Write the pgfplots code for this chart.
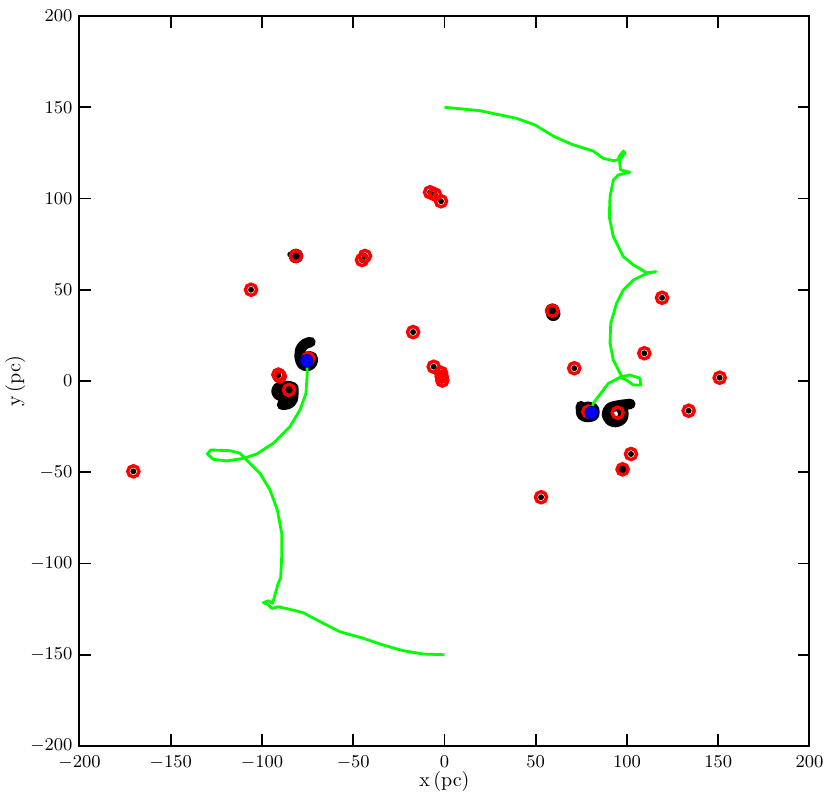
\documentclass[border=0pt]{standalone}
\usepackage{pgfplots}
\pgfplotsset{compat=1.18}
\definecolor{lime}{rgb}{0,1,0}
\begin{document}
\begin{tikzpicture}
\begin{axis}[
  scale only axis, width=365pt, height=365pt,
  xmin=-200, xmax=200, ymin=-200, ymax=200,
  xtick={-200,-150,...,200}, ytick={-200,-150,...,200},
  tick align=inside, major tick length=5.8pt,
  every tick/.style={black, line width=0.8pt},
  axis line style={line width=1pt},
  tick label style={font=\fontsize{8.7}{10}\selectfont},
  xticklabel style={yshift=-1.5pt},
  label style={font=\fontsize{8.7}{10}\selectfont},
  xlabel={x\,(pc)}, ylabel={y\,(pc)},
  every axis x label/.style={at={(axis description cs:0.5,-0.048)}, anchor=center},
  every axis y label/.style={at={(axis description cs:-0.0877,0.5)}, anchor=center, rotate=90},
  clip=false,
]
\coordinate (SW) at (rel axis cs:0,0);
% black particle streams (blobs)
\addplot[black, line width=5.3pt, line cap=round, line join=round, smooth] coordinates {
(-73.5,21.3) (-76.5,20.3) (-78.8,17.5) (-79.3,13) (-78,9.3) (-75,8.2) (-72.7,9.7) (-72.2,12.5) (-74,13.5) (-77,12.5)};
\addplot[black, line width=5.3pt, line cap=round, line join=round, smooth] coordinates {
(-82.8,-3.7) (-85,-2.9) (-89,-2.9) (-91.7,-4.2) (-91.7,-7) (-89,-8.4) (-85.5,-8.4) (-83.3,-7) (-82.8,-4.2) (-83.2,-10) (-85.5,-12.5) (-89,-13)};
\addplot[black, line width=5.3pt, line cap=round, line join=round, smooth] coordinates {
(74.8,-13.8) (75.2,-18.3) (78,-19.7) (81.7,-18.8) (81.7,-15.2) (78,-14.2) (76.2,-16)};
\addplot[black, line width=5.3pt, line cap=round, line join=round, smooth] coordinates {
(101.8,-12.6) (99,-12.9) (95,-13.5) (90.8,-14.7) (89,-18) (90.7,-21.5) (94,-22.5) (97.3,-20.8) (98,-17.5) (96.8,-14.7)};
\addplot[black, line width=3pt, line cap=round] coordinates {(-84.5,69.3) (-81.4,68.5)};
% black dots
\addplot[only marks, mark=*, mark size=1.25pt, black] coordinates {
(-170.5,-49.5) (-106,50) (-45.2,66.3) (-43.6,68.5) (-7.9,103.4) (-5.2,102.2) (-1.9,98.5)
(-17.2,26.8) (-5.9,7.8) (-1.9,4.5) (-1.5,2.4) (-1.2,0.3) (71.1,7) (109.5,15.2) (119.2,45.6)
(150.8,1.8) (133.8,-16.3) (102.2,-40) (52.9,-63.7) (-91,3.2)};
\addplot[only marks, mark=*, mark size=3.4pt, black] coordinates {
(-81.4,68.5) (59.1,38.5) (59.6,36.8)};
\addplot[only marks, mark=*, mark size=2.5pt, black] coordinates {(97.6,-48.4)};
% green trajectories
\addplot[lime, line width=1.4pt, line join=round] coordinates {
(0,150) (19.5,148.1) (39.5,143.9) (49.6,140.3) (59.6,134.2) (69.7,129.7) (81.5,126) (87,122)
(92.5,120.7) (96.2,121.5) (98.9,124.8) (98,126) (95.6,122.9) (96.5,115.6) (101.6,114.4)
(95.2,112.9) (92.5,110.1) (90.7,101) (90.3,90) (92.5,79.1) (98,68.1) (103.5,63.6) (110.8,59.3)
(115.9,59.9) (110.8,59) (103.5,55.3) (98,49.9) (94.3,42.6) (91.1,31.6) (90.7,20.7) (92.5,11.5)
(97.1,2.4) (101.6,3.3) (107.1,1.5) (107.5,-2.2) (103.5,-2.2) (99.8,0.5) (96.2,2) (89.8,-1.3)
(81.5,-12.2) (80.5,-16)};
\addplot[lime, line width=1.4pt, line join=round] coordinates {
(-75.5,10) (-75.2,4.2) (-75.9,-6.7) (-79.2,-15.9) (-84.7,-25) (-93.8,-34.1) (-102.9,-40)
(-110.2,-42.4) (-119.3,-43.8) (-126.7,-42.9) (-130,-40) (-128.1,-37.8) (-117.5,-38.2)
(-112.1,-39.6) (-108.4,-43.3) (-101.1,-50.6) (-95.6,-59.7) (-91.6,-70.7) (-89.2,-83.5)
(-89.2,-96.3) (-89.8,-108.1) (-91.1,-110.8) (-92.9,-117.3) (-94.2,-121.8) (-96.5,-120.4)
(-99.3,-121.5) (-97.1,-122.2) (-94.7,-124.6) (-91.1,-123.7) (-84.7,-125.1) (-77.4,-127)
(-66.4,-132.8) (-57.3,-137.4) (-44.5,-141) (-33.5,-144.7) (-22.6,-147.8) (-11.6,-149.6) (0,-150)};
% red open circles
\addplot[only marks, mark=o, mark size=2.8pt, mark options={draw=red, line width=1.7pt}] coordinates {
(-170.5,-49.5) (-106,50) (-81.4,68.5) (-45.2,66.3) (-43.6,68.5) (-7.9,103.4) (-5.2,102.2) (-1.9,98.5)
(-17.2,26.8) (-5.9,7.8) (-1.9,4.5) (-1.5,2.4) (-1.2,0.3) (59.1,38.5) (71.1,7) (109.5,15.2) (119.2,45.6)
(150.8,1.8) (133.8,-16.3) (102.2,-40) (97.6,-48.4) (52.9,-63.7) (-91,3.5) (-90.2,2.5)
(-85.2,-4.9) (-74.6,12.4) (78.8,-16.8) (94.9,-17.4)};
% blue filled circles
\addplot[only marks, mark=*, mark size=3.2pt, mark options={fill=blue, draw=blue!60!black, line width=0.4pt}] coordinates {
(-75.5,11) (80.5,-17.4)};
\end{axis}
\pgfresetboundingbox
\path (SW) ++(-39.75pt,-28.5pt) rectangle ++(415.5pt,401.5pt);
\end{tikzpicture}
\end{document}
